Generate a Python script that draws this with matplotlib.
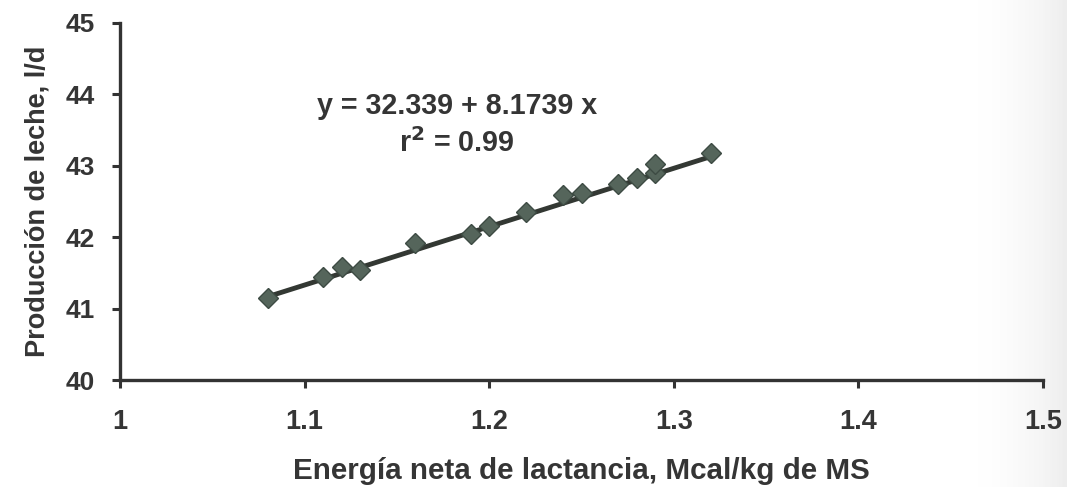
import numpy as np
import matplotlib.pyplot as plt

# values
energia = [1.08, 1.11, 1.12, 1.13, 1.16, 1.19, 1.20, 1.22, 1.24, 1.25, 1.27, 1.28, 1.29, 1.29, 1.32]
leche = [41.15, 41.44, 41.58, 41.54, 41.92, 42.04, 42.16, 42.35, 42.59, 42.62, 42.75, 42.83, 42.90, 43.03, 43.18]
intercepto = 32.339
pendiente = 8.1739
r2 = 0.99

x_ticks = [1, 1.1, 1.2, 1.3, 1.4, 1.5]
x_tick_labels = ['1', '1.1', '1.2', '1.3', '1.4', '1.5']
y_ticks = [40, 41, 42, 43, 44, 45]

plt.rcParams['font.family'] = ['Liberation Sans', 'DejaVu Sans']
txt = '#353535'

fig = plt.figure(figsize=(10.67, 4.87), dpi=100)

# light grey shading of the scanned page at the right edge
bg = fig.add_axes([0.90, 0, 0.10, 1], zorder=0)
bg.imshow(np.linspace(0, 1, 50)[None, :] ** 2, aspect='auto', cmap='Greys',
          vmin=0, vmax=7, extent=[0, 1, 0, 1])
bg.axis('off')

ax = fig.add_axes([0.1125, 0.2197, 0.865, 0.7331], zorder=1)
ax.patch.set_alpha(0)

xs = np.array([min(energia), max(energia)])
ax.plot(xs, intercepto + pendiente * xs, color='#333833', lw=3.5, zorder=2)
ax.plot(energia, leche, linestyle='none', marker='D', markersize=10.5,
        markerfacecolor='#55655b', markeredgecolor='#3d4b43', markeredgewidth=1, zorder=3)

ax.set_xlim(1, 1.5)
ax.set_ylim(40, 45)
ax.set_xticks(x_ticks)
ax.set_xticklabels(x_tick_labels)
ax.set_yticks(y_ticks)

for s in ['top', 'right']:
    ax.spines[s].set_visible(False)
for s in ['left', 'bottom']:
    ax.spines[s].set_linewidth(2.4)
    ax.spines[s].set_color('#333333')
ax.tick_params(axis='both', direction='out', length=6, width=2.2, color='#333333',
               labelcolor=txt)
ax.tick_params(axis='x', pad=15, labelsize=19.5)
ax.tick_params(axis='y', pad=12, labelsize=19)
for lab in ax.get_xticklabels() + ax.get_yticklabels():
    lab.set_fontweight('bold')

ax.set_xlabel('Energía neta de lactancia, Mcal/kg de MS', fontsize=21.3, fontweight='bold',
              color=txt, labelpad=16)
ax.set_ylabel('Producción de leche, l/d', fontsize=19.5, fontweight='bold', color=txt, labelpad=11)

ax.text(1.1825, 43.84, f'y = {intercepto} + {pendiente} x', fontsize=20.6, fontweight='bold',
        color=txt, ha='center', va='center')
ax.text(1.1825, 43.32, f'r$^{{\\mathbf{{2}}}}$ = {r2}', fontsize=20.6, fontweight='bold',
        color=txt, ha='center', va='center')

fig.savefig('out.png', dpi=100)
